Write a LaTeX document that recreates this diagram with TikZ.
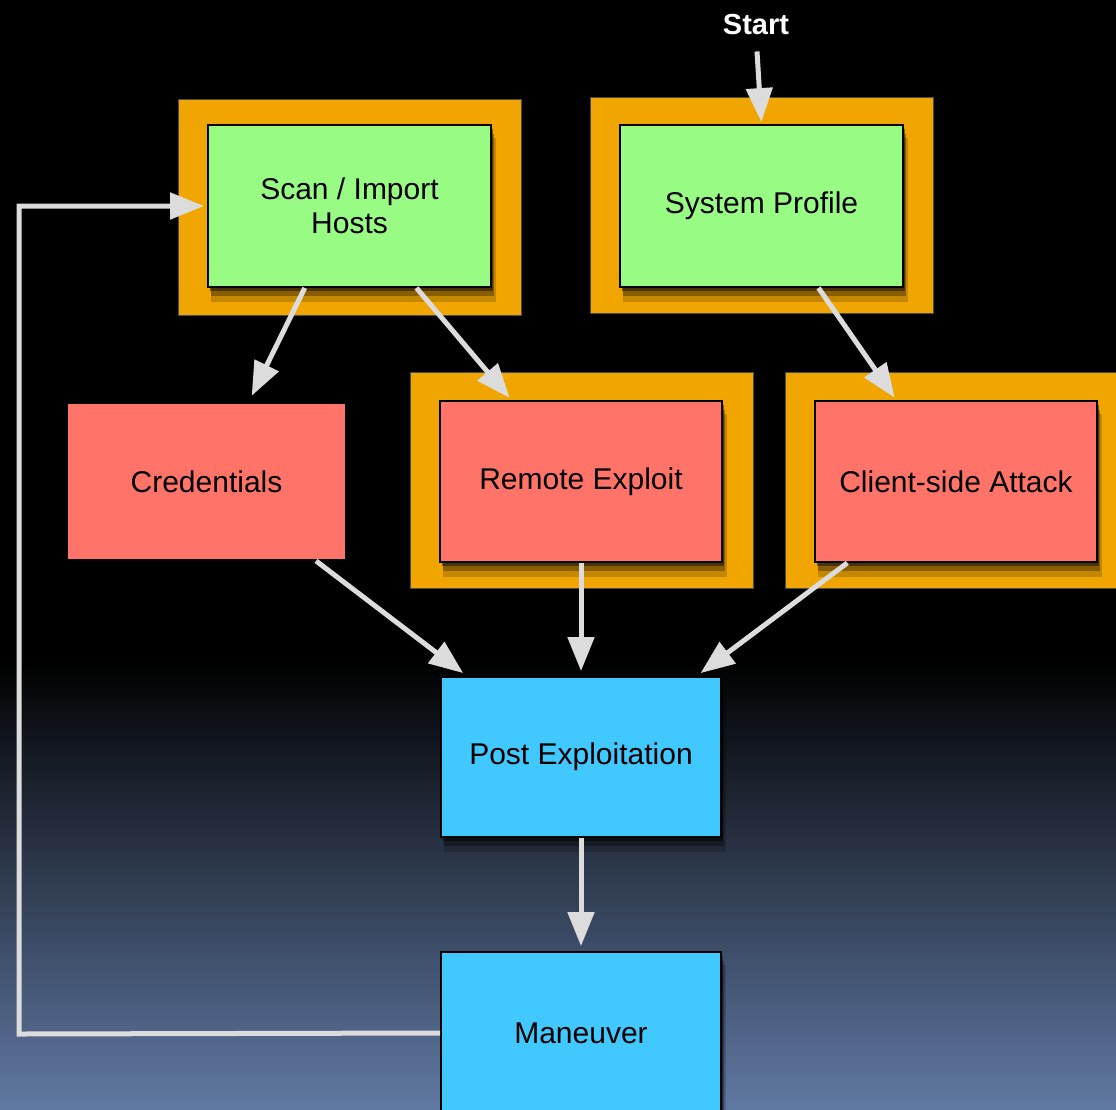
\documentclass[tikz,border=0pt]{standalone}
\usepackage{fontspec}
\setmainfont{Liberation Sans}
\usetikzlibrary{arrows.meta,shadows,calc}
\definecolor{frameor}{HTML}{F0A500}
\definecolor{boxgreen}{HTML}{98FB84}
\definecolor{boxred}{HTML}{FF7368}
\definecolor{boxblue}{HTML}{40C8FF}
\definecolor{arrgray}{HTML}{DCDCDC}
\definecolor{bgbottom}{HTML}{6079A3}
\begin{document}
\begin{tikzpicture}[x=1pt,y=-1pt,
  frame/.style={fill=frameor, draw=black!70, line width=0.6pt, minimum width=343pt, minimum height=216pt, inner sep=0pt},
  box/.style={draw=black, line width=1.8pt, inner sep=0pt, align=center,
    font=\fontsize{30}{34}\selectfont, text=black,
    general shadow={fill=black, opacity=0.18, shadow xshift=4pt, shadow yshift=-14pt, shadow scale=1.01},
    general shadow={fill=black, opacity=0.3, shadow xshift=3pt, shadow yshift=-9pt},
    general shadow={fill=black, opacity=0.45, shadow xshift=2pt, shadow yshift=-4pt}},
  greenbox/.style={box, fill=boxgreen, minimum width=283pt, minimum height=162pt},
  redbox/.style={box, fill=boxred, minimum width=282pt, minimum height=161pt},
  bluebox/.style={box, fill=boxblue, minimum width=280pt, minimum height=160pt},
  arr/.style={draw=arrgray, line width=5pt, -{Triangle[length=34pt,width=26pt]}}
]
\useasboundingbox (0,0) rectangle (1116,1109);
\fill[black] (0,0) rectangle (1116,661);
\shade[top color=black, bottom color=bgbottom] (0,660) rectangle (1116,1109);

% frames
\node[frame] (scanF) at (349.5,207) {};
\node[frame] (profF) at (761.5,205) {};
\node[frame] (remF) at (581.5,480) {};
\node[frame] (cliF) at (956.5,480) {};

% boxes
\node[greenbox] (scan) at (349.5,206) {Scan / Import\\Hosts};
\node[greenbox] (prof) at (761.5,206) {System Profile};
\node[redbox, minimum width=279pt, minimum height=157pt] (cred) at (206.5,481.5) {Credentials};
\node[redbox] (rem) at (581,481.5) {Remote Exploit};
\node[redbox] (cli) at (956,481.5) {Client-side Attack};
\node[bluebox] (post) at (581,757) {Post Exploitation};
\node[bluebox, minimum height=162pt] (man) at (581,1033) {Maneuver};

\node[text=white, font=\bfseries\fontsize{29}{34}\selectfont, inner sep=0pt] (start) at (756,25) {Start};

% connectors
\draw[arr, shorten <=16pt, shorten >=2pt] (start.south) -- (prof.north);
\draw[arr, shorten >=7pt] ($(scan.south west)!0.343!(scan.south east)$) -- ($(cred.north west)!0.65!(cred.north east)$);
\draw[arr, shorten >=3pt] ($(scan.south west)!0.735!(scan.south east)$) -- ($(rem.north west)!0.255!(rem.north east)$);
\draw[arr, shorten >=3pt] ($(prof.south west)!0.70!(prof.south east)$) -- ($(cli.north west)!0.29!(cli.north east)$);
\draw[arr, shorten >=5pt] ($(cred.south west)!0.89!(cred.south east)$) -- ($(post.north west)!0.096!(post.north east)$);
\draw[arr, shorten >=5pt] (rem.south) -- (post.north);
\draw[arr, shorten >=5pt] ($(cli.south west)!0.117!(cli.south east)$) -- ($(post.north west)!0.91!(post.north east)$);
\draw[arr, shorten >=5pt] (post.south) -- (man.north);
\coordinate (loopcorner) at (19,1034);
\draw[arr, shorten >=3pt] (man.west) -- (loopcorner) |- (scan.west);
\end{tikzpicture}
\end{document}
